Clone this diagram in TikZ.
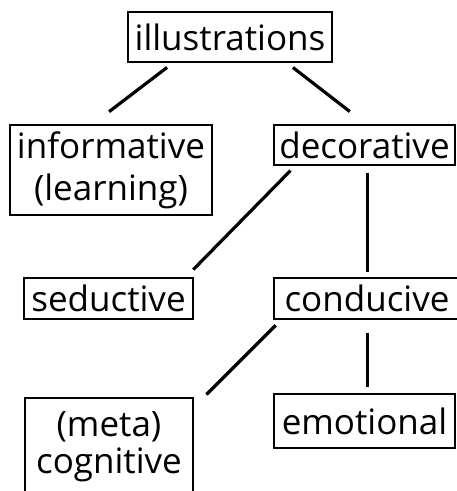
\documentclass[tikz,border=0pt]{standalone}
\usepackage{fontspec}
\setmainfont{Open Sans}

\begin{document}
\begin{tikzpicture}[
  x = 1pt,
  y = -1pt,
  box/.style = {
    shape = rectangle,
    draw = black,
    line width = 1.2pt,
    inner sep = 0pt,
    align = center,
    font = \fontsize{35}{42}\selectfont
  },
  link/.style = {
    line width = 3.2pt
  }
]
  \path[use as bounding box, clip] (0, 0) rectangle (457, 491);

  \node[box, minimum width = 204, minimum height = 50] (illus) at (230, 37) {illustrations};

  \node[box, minimum width = 202, minimum height = 90] (info) at (111, 170) {informative\\(learning)};
  \node[box, minimum width = 181, minimum height = 40] (deco) at (364.5, 145) {decorative};

  \node[box, minimum width = 169, minimum height = 41] (sed) at (108.5, 298.5) {seductive};
  \node[box, minimum width = 186, minimum height = 41] (cond) at (367, 298.5) {conducive};

  \node[box, minimum width = 168, minimum height = 98] (cog) at (109, 447) {(meta)\\[-5pt]cognitive};
  \node[box, minimum width = 181, minimum height = 54] (emo) at (364.5, 421) {emotional};

  \draw[link, shorten < = 8pt, shorten > = 21pt] ([xshift = 46pt] illus.south west) -- ([xshift = 83pt] info.north west);
  \draw[link, shorten < = 8pt, shorten > = 21pt] ([xshift = -46pt] illus.south east) -- ([xshift = 93pt] deco.north west);
  \draw[link, shorten < = 7pt, shorten > = 11pt] ([xshift = 22pt] deco.south west) -- ([xshift = -8pt] sed.north east);
  \draw[link, shorten < = 7pt, shorten > = 5pt] ([xshift = 94pt] deco.south west) -- ([xshift = 94pt] cond.north west);
  \draw[link, shorten < = 8pt, shorten > = 4pt] ([xshift = 8pt] cond.south west) -- ([xshift = 10pt] cog.north east);
  \draw[link, shorten < = 13pt, shorten > = 6pt] ([xshift = 94pt] cond.south west) -- ([xshift = 94pt] emo.north west);
\end{tikzpicture}
\end{document}
